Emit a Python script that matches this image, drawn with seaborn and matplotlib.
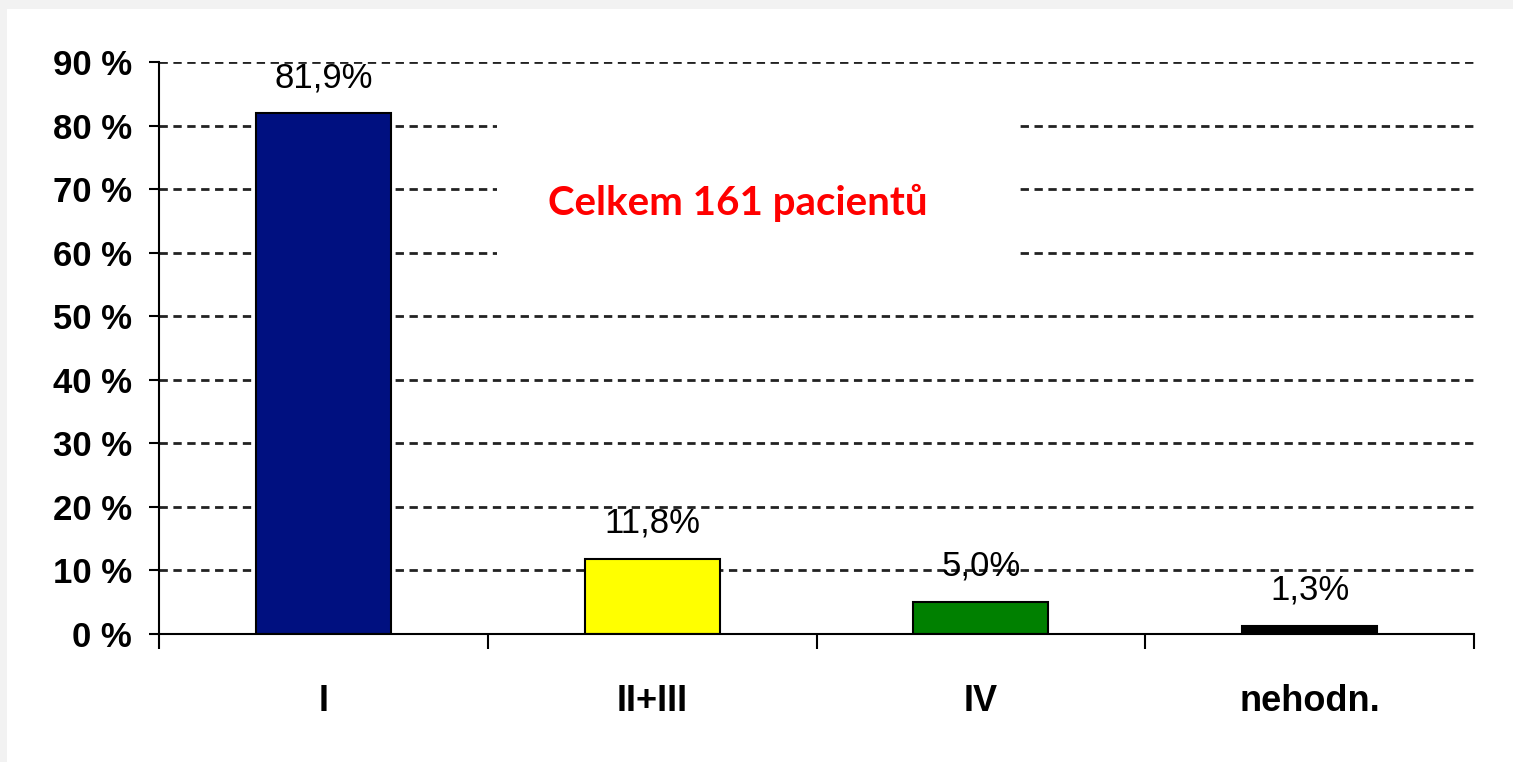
import matplotlib
matplotlib.use("Agg")
import matplotlib.pyplot as plt
from matplotlib.patches import Rectangle
import seaborn as sns
import pandas as pd

# chart data
categories = ["I", "II+III", "IV", "nehodn."]
values = [81.9, 11.8, 5.0, 1.3]
value_labels = ["81,9%", "11,8%", "5,0%", "1,3%"]
bar_colors = ["#001080", "#FFFF00", "#008000", "#000000"]
y_ticks = [0, 10, 20, 30, 40, 50, 60, 70, 80, 90]
y_tick_labels = [f"{t} %" for t in y_ticks]
note_text = "Celkem 161 pacientů"

df = pd.DataFrame({"kategorie": categories, "podil": values})

sns.set_style("white")
plt.rcParams["font.family"] = ["Liberation Sans", "DejaVu Sans"]
plt.rcParams["text.color"] = "black"
plt.rcParams["xtick.color"] = "black"
plt.rcParams["ytick.color"] = "black"

fig = plt.figure(figsize=(15.13, 7.62), dpi=100)
fig.patch.set_facecolor("#f2f2f2")
# white slide area (thin grey band on top and left)
fig.patches.append(Rectangle((7 / 1513, 0), 1, 1 - 9 / 762,
                             transform=fig.transFigure, facecolor="white",
                             edgecolor="none", zorder=-10))

ax = fig.add_axes([159 / 1513, 1 - 634 / 762, (1474 - 159) / 1513, (634 - 62) / 762])
ax.set_facecolor("none")
ax.set_zorder(1)

sns.barplot(
    data=df,
    x="kategorie",
    y="podil",
    hue="kategorie",
    palette=bar_colors,
    saturation=1,
    width=0.41,
    edgecolor="black",
    linewidth=1.5,
    legend=False,
    ax=ax,
    zorder=3,
)

for cont, lab in zip(ax.containers, value_labels):
    ax.bar_label(cont, labels=[lab], padding=14, fontsize=25, color="black", zorder=5)

ax.set_xlim(-0.5, 3.5)
ax.set_ylim(0, 90)

# y axis
ax.set_yticks(y_ticks)
ax.set_yticklabels(y_tick_labels, fontsize=25, fontweight="bold")
ax.tick_params(axis="y", direction="out", length=7.5, width=1.5, color="black",
               labelcolor="black", pad=12, left=True)

# x axis: ticks at category boundaries, labels at centers
ax.set_xticks([-0.5, 0.5, 1.5, 2.5, 3.5])
ax.set_xticklabels([])
ax.set_xticks(range(len(categories)), minor=True)
ax.set_xticklabels(categories, minor=True, fontsize=26, fontweight="bold")
ax.tick_params(axis="x", which="major", direction="out", length=11, width=1.5,
               color="black", bottom=True)
ax.tick_params(axis="x", which="minor", length=0, pad=36, labelcolor="black")
ax.set_xlabel("")
ax.set_ylabel("")

for side in ["top", "right"]:
    ax.spines[side].set_visible(False)
for side in ["left", "bottom"]:
    ax.spines[side].set_color("black")
    ax.spines[side].set_linewidth(1.5)
    ax.spines[side].set_zorder(4)

ax.yaxis.grid(True, color="#222222", linestyle=(0, (3, 2)), linewidth=2)
ax.set_axisbelow(True)

# white box behind the note covering the gridlines
ax.add_patch(Rectangle((0.527, 55), 1.587, 29, facecolor="white", edgecolor="none", zorder=2))
ax.text(1.26, 65.9, note_text, ha="center", va="baseline", color="#ff0000",
        fontsize=29, fontweight="bold", family=["Lato", "DejaVu Sans"], zorder=6)

fig.savefig("out.png", dpi=100, facecolor=fig.get_facecolor())
